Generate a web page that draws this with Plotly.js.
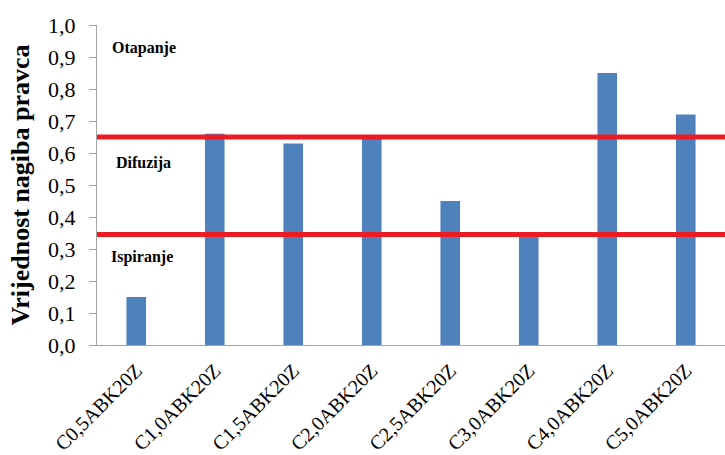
<!DOCTYPE html>
<html>
<head>
<meta charset="utf-8">
<script src="https://cdn.plot.ly/plotly-3.0.1.min.js"></script>
<style>html,body{margin:0;padding:0;overflow:hidden;background:#fff}#chart{width:725px;height:455px}</style>
</head>
<body>
<div id="chart"></div>
<script>
const categories = ["C0,5ABK20Z","C1,0ABK20Z","C1,5ABK20Z","C2,0ABK20Z","C2,5ABK20Z","C3,0ABK20Z","C4,0ABK20Z","C5,0ABK20Z"];
const slopes = [0.15, 0.66, 0.63, 0.645, 0.45, 0.34, 0.85, 0.72];
const thresholds = [0.345, 0.65];
const zoneLabels = ["Otapanje", "Difuzija", "Ispiranje"];
const zoneLabelY = [0.928, 0.569, 0.275];
const yTicks = [0,0.1,0.2,0.3,0.4,0.5,0.6,0.7,0.8,0.9,1.0];

const serif = "'Times New Roman', 'Liberation Serif', 'DejaVu Serif', serif";
const labelX = [0.02, 0.027, 0.019];

const trace = {
  type: "bar",
  x: categories,
  y: slopes,
  marker: {color: "#4f81bd"},
  width: 0.25,
  hoverinfo: "x+y"
};

const shapes = thresholds.map(t => ({
  type: "line", xref: "paper", x0: 0, x1: 1, yref: "y", y0: t, y1: t,
  line: {color: "#ec1c24", width: 5}
}));

const annotations = zoneLabels.map((s, i) => ({
  text: "<b>" + s + "</b>", xref: "paper", yref: "y",
  x: labelX[i], y: zoneLabelY[i], xanchor: "left", yanchor: "middle",
  showarrow: false, font: {family: serif, size: 16, color: "#000"}
}));

const layout = {
  width: 725, height: 455,
  margin: {l: 97, r: 0, t: 25, b: 110},
  paper_bgcolor: "#fff", plot_bgcolor: "#fff",
  font: {family: serif, color: "#000"},
  separators: ", ",
  showlegend: false,
  xaxis: {
    type: "category",
    range: [-0.5, 7.5],
    tickangle: -45,
    tickfont: {family: serif, size: 20, color: "#000"},
    ticklabelstandoff: 5,
    ticklabelshift: 0,
    showline: true, linecolor: "#a6a6a6", linewidth: 1,
    ticks: "", showgrid: false, zeroline: false,
    automargin: false
  },
  yaxis: {
    range: [0, 1.0],
    tickvals: yTicks,
    tickformat: ".1f",
    tickfont: {family: serif, size: 22, color: "#000"},
    ticks: "outside", ticklen: 7, tickcolor: "#a6a6a6",
    ticklabelstandoff: 9,
    showline: true, linecolor: "#a6a6a6", linewidth: 1,
    showgrid: false, zeroline: false,
    automargin: false,
    title: {text: "<b>Vrijednost nagiba pravca</b>", font: {family: serif, size: 26, color: "#000"}, standoff: 10}
  },
  shapes: shapes,
  annotations: annotations
};

Plotly.newPlot("chart", [trace], layout, {displayModeBar: false, staticPlot: true});
</script>
</body>
</html>
